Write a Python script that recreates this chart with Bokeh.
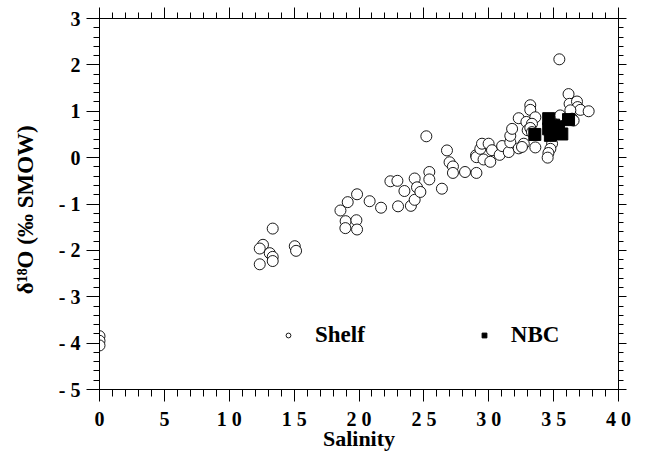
from bokeh.plotting import figure
from bokeh.models import (Range1d, SingleIntervalTicker, LinearAxis, Legend,
                          ColumnDataSource, CustomLabelingPolicy)
from bokeh.embed import file_html
from bokeh.resources import INLINE

# Shelf samples (salinity, d18O)
shelf_sal = [0.0, 0.0, 0.0,
             13.35, 12.60, 12.35, 13.12, 13.35, 13.35, 12.35, 15.05, 15.15,
             18.57, 19.13, 19.85, 18.97, 18.95, 19.80, 19.85,
             20.82, 21.70, 22.42, 22.96, 23.01, 23.50, 24.00, 24.29, 24.29, 24.47, 24.73,
             25.19, 25.42, 25.42, 26.39, 26.78, 26.98, 27.24, 27.24,
             28.17, 29.05, 29.02, 29.05, 29.35, 29.48, 29.99, 29.60, 30.12, 30.25,
             30.84, 31.03, 31.54, 31.66, 31.66, 31.80, 32.31, 32.70, 32.31, 32.56, 32.90, 33.00,
             33.20, 33.20, 33.59, 33.33, 33.20, 33.33, 33.59, 34.88, 34.75, 34.60, 34.54,
             35.37, 35.51, 35.44, 36.15, 36.23, 36.80, 36.85, 37.06, 37.70, 36.29, 36.42, 36.54]
shelf_d18o = [-3.85, -3.95, -4.05,
              -1.53, -1.88, -1.96, -2.06, -2.14, -2.23, -2.30, -1.91, -2.01,
              -1.14, -0.96, -0.79, -1.37, -1.52, -1.35, -1.55,
              -0.94, -1.08, -0.51, -0.50, -1.05, -0.72, -1.04, -0.91, -0.45, -0.64, -0.74,
              0.46, -0.31, -0.47, -0.67, 0.155, -0.10, -0.19, -0.33,
              -0.31, -0.33, 0.05, 0.01, 0.19, 0.30, 0.30, -0.04, -0.09, 0.16,
              0.06, 0.25, 0.12, 0.33, 0.47, 0.62, 0.20, 0.30, 0.85, 0.23, 0.77, 0.59,
              1.13, 1.03, 0.87, 0.73, 0.64, 0.55, 0.22, 0.30, 0.19, 0.10, 0.00,
              0.87, 0.91, 2.12, 1.37, 1.16, 1.21, 1.09, 1.03, 1.00, 1.02, 0.84, 0.80]

# NBC samples
nbc_sal = [33.55, 34.62, 34.62, 34.75, 35.00, 35.37, 35.63, 36.15]
nbc_d18o = [0.50, 0.84, 0.62, 0.48, 0.70, 0.66, 0.51, 0.82]

x_ticks = [0, 5, 10, 15, 20, 25, 30, 35, 40]
x_labels = ["0", "5", "1 0", "1 5", "2 0", "2 5", "3 0", "3 5", "4 0"]
y_ticks = [3, 2, 1, 0, -1, -2, -3, -4, -5]
y_labels = ["3", "2", "1", "0", "- 1", "- 2", "- 3", "- 4", "- 5"]

FONT = "Liberation Serif"

p = figure(width=647, height=453, x_range=Range1d(0, 40), y_range=Range1d(-5, 3),
           output_backend="svg", toolbar_location=None,
           min_border_left=99, min_border_right=29, min_border_top=18, min_border_bottom=64)
p.grid.visible = False
p.outline_line_color = None
p.background_fill_color = "white"

no_labels = "for (let i = 0; i < indices.size; i++) { indices.unset(i) } return indices"

def style_axis(ax, ticker, show_labels, major_out, minor_out):
    ax.ticker = ticker
    ax.axis_line_color = "black"
    ax.axis_line_width = 1
    ax.major_tick_line_color = "black"
    ax.minor_tick_line_color = "black"
    ax.major_tick_in = 0
    ax.minor_tick_in = 0
    ax.major_tick_out = major_out
    ax.minor_tick_out = minor_out
    ax.major_label_text_font = FONT
    ax.major_label_text_font_style = "bold"
    ax.major_label_text_color = "black"
    if show_labels:
        ax.major_label_text_font_size = "20px"
    else:
        ax.major_label_text_font_size = "0px"
        ax.major_label_policy = CustomLabelingPolicy(code=no_labels)
        ax.major_label_standoff = 0

xt = SingleIntervalTicker(interval=5, num_minor_ticks=5)
yt = SingleIntervalTicker(interval=1, num_minor_ticks=5)

style_axis(p.xaxis[0], xt, True, 12, 7)
style_axis(p.yaxis[0], yt, True, 13, 6)
p.xaxis[0].major_label_overrides = {t: l for t, l in zip(x_ticks, x_labels)}
p.yaxis[0].major_label_overrides = {t: l for t, l in zip(y_ticks, y_labels)}
p.xaxis[0].major_label_standoff = 6
p.yaxis[0].major_label_standoff = 6

p.xaxis[0].axis_label = "Salinity"
p.yaxis[0].axis_label = "δ¹⁸O  (‰  SMOW)"
for ax in (p.xaxis[0], p.yaxis[0]):
    ax.axis_label_text_font = FONT
    ax.axis_label_text_font_style = "bold"
    ax.axis_label_text_color = "black"
p.xaxis[0].axis_label_text_font_size = "22px"
p.yaxis[0].axis_label_text_font_size = "23px"
p.xaxis[0].axis_label_standoff = -7
p.yaxis[0].axis_label_standoff = 18

top = LinearAxis()
style_axis(top, SingleIntervalTicker(interval=5, num_minor_ticks=5), False, 11, 6)
p.add_layout(top, "above")
right = LinearAxis()
style_axis(right, SingleIntervalTicker(interval=1, num_minor_ticks=5), False, 8, 5)
p.add_layout(right, "right")

shelf_src = ColumnDataSource(dict(x=shelf_sal, y=shelf_d18o))
nbc_src = ColumnDataSource(dict(x=nbc_sal, y=nbc_d18o))

r1 = p.scatter("x", "y", source=shelf_src, marker="circle", size=11,
               fill_color="white", line_color="black", line_width=0.9)
r2 = p.scatter("x", "y", source=nbc_src, marker="square", size=12,
               fill_color="black", line_color="black")

legend = Legend(items=[("Shelf", [r1]), ("NBC", [r2])], orientation="horizontal",
                location=(183, 41), border_line_color=None, background_fill_alpha=0,
                padding=0, margin=0, spacing=113, glyph_width=12, glyph_height=12,
                label_standoff=21, label_text_font=FONT, label_text_font_style="bold",
                label_text_font_size="23px", label_text_color="black")
p.add_layout(legend)

open("out.html", "w").write(file_html(p, INLINE))
